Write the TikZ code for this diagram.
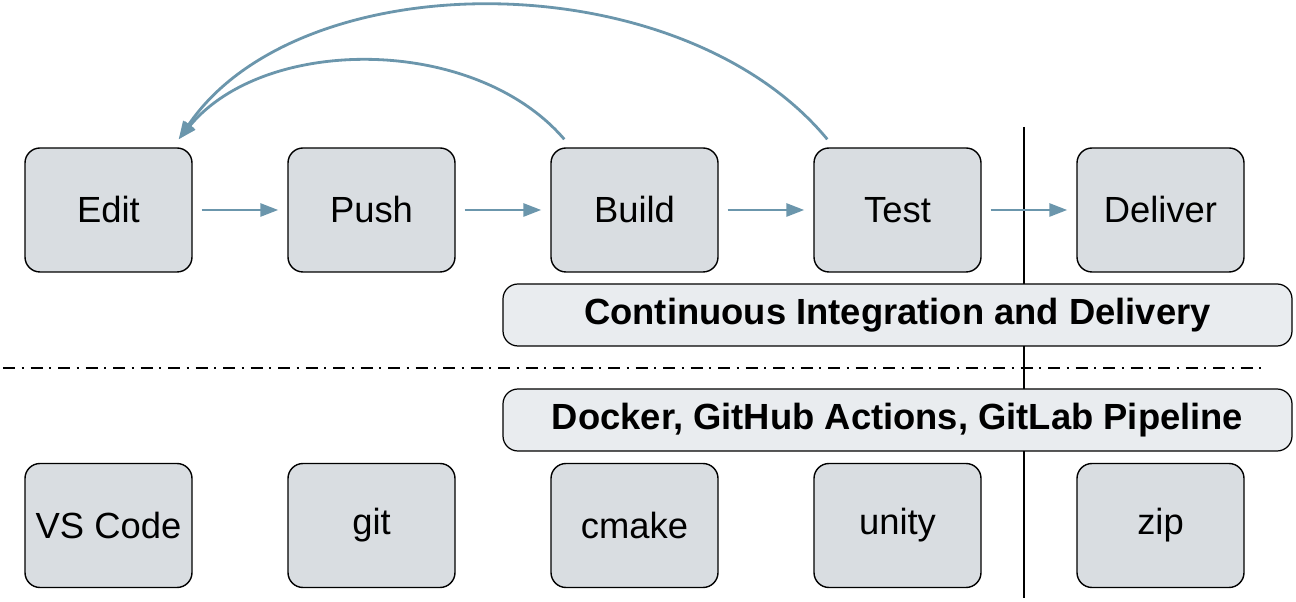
\documentclass[tikz,border=0pt]{standalone}
\usepackage{fontspec}
\setmainfont{Liberation Sans}
\usepackage{xcolor}
\usetikzlibrary {arrows.meta, positioning}
\definecolor{boxgray}{HTML}{D9DDE1}
\definecolor{bargray}{HTML}{E9ECEF}
\definecolor{flowblue}{HTML}{6B96AC}

\begin{document}
\begin{tikzpicture}[
  stage/.style={draw, line width=0.8pt, fill=boxgray, rounded corners=0.3cm,
    minimum width=3.34cm, minimum height=2.48cm, font=\fontsize{20.7}{24}\selectfont},
  band/.style={draw, line width=0.7pt, fill=bargray, rounded corners=0.3cm,
    minimum width=15.78cm, minimum height=1.24cm, font=\fontsize{20.7}{24}\selectfont\bfseries},
  flow/.style={flowblue, line width=1.6pt, -{Triangle[length=0.36cm, width=0.26cm]}},
  ]
  \useasboundingbox (0, 0) rectangle (25.92, 12.04);
  \draw[line width=0.7pt] (20.48, 9.5) -- (20.48, 0.08);
  \draw[line width=0.7pt, dash pattern=on 0.24cm off 0.13cm on 0.04cm off 0.14cm] (0.06, 4.68) -- (25.3, 4.68);

  \node[stage] (edit) at (2.17, 7.84) {Edit};
  \node[stage] (push) at (7.43, 7.84) {Push};
  \node[stage] (build) at (12.69, 7.84) {Build};
  \node[stage] (test) at (17.95, 7.84) {Test};
  \node[stage] (deliver) at (23.21, 7.84) {Deliver};

  \node[band] (ci) at (17.95, 5.74) {Continuous Integration and Delivery};
  \node[band] (tools) at (17.95, 3.64) {Docker, GitHub Actions, GitLab Pipeline};

  \node[stage] (vscode) at (2.17, 1.53) {VS Code};
  \node[stage] (git) at (7.43, 1.53) {git};
  \node[stage] (cmake) at (12.69, 1.53) {cmake};
  \node[stage] (unity) at (17.95, 1.53) {unity};
  \node[stage] (zip) at (23.21, 1.53) {zip};

  \draw[flow, shorten <=0.18cm, shorten >=0.18cm] (edit) -- (push);
  \draw[flow, shorten <=0.18cm, shorten >=0.18cm] (push) -- (build);
  \draw[flow, shorten <=0.18cm, shorten >=0.18cm] (build) -- (test);
  \draw[flow, shorten <=0.18cm, shorten >=0.18cm] (test) -- (deliver);

  % feedback loops back to the editor
  \draw[flow] ([shift={(0.28, 0.16)}]build.north west) .. controls (9.5, 11.34) and (5.3, 11.34) .. ([shift={(-0.28, 0.16)}]edit.north east);
  \draw[flow] ([shift={(0.28, 0.16)}]test.north west) .. controls (13.6, 12.82) and (6, 12.82) .. ([shift={(-0.28, 0.16)}]edit.north east);
\end{tikzpicture}
\end{document}
